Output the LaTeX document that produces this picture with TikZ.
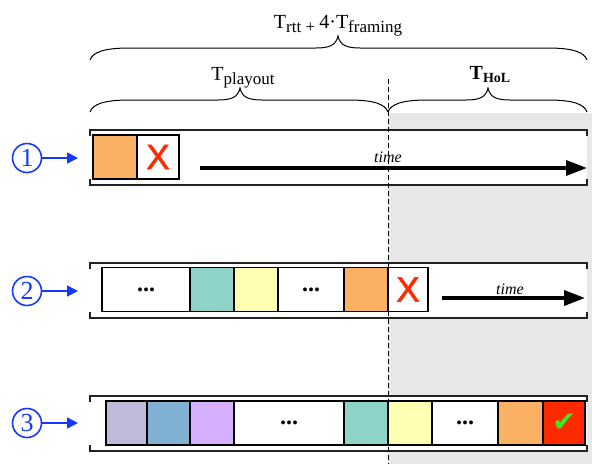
\documentclass[tikz,border=0pt]{standalone}
\usepackage{fontspec}
\setmainfont{Liberation Serif}
\newfontfamily\sansX[FakeBold=1.6]{Liberation Sans}
\newfontfamily\dejavu{DejaVu Sans}
\usetikzlibrary{arrows.meta}
\definecolor{cOrange}{HTML}{FBB163}
\definecolor{cTeal}{HTML}{8DD3C7}
\definecolor{cYellow}{HTML}{FFFFB3}
\definecolor{cLav}{HTML}{BEBADA}
\definecolor{cBlue}{HTML}{80B1D3}
\definecolor{cPurple}{HTML}{D6B0FF}
\definecolor{cRed}{HTML}{FF2A00}
\definecolor{cGreen}{HTML}{33EE22}
\definecolor{cShade}{HTML}{E8E8E8}
\definecolor{cNum}{HTML}{1438FF}
\definecolor{cFrame}{HTML}{222222}
\newcommand\mybracepath[6]{%
  (#1,#4) .. controls (#1+3,#5+4) and (#1+14,#5) .. (#1+40,#5) -- (#3-22,#5)
  .. controls (#3-8,#5) and (#3-2,#5-3) .. (#3,#6)
  .. controls (#3+2,#5-3) and (#3+8,#5) .. (#3+22,#5) -- (#2-40,#5)
  .. controls (#2-14,#5) and (#2-3,#5+4) .. (#2,#4)}
\newcommand\myframe[2]{%
  \fill[white] (90,#1) rectangle (587,#2);
  \draw[framel] (90,#1+6) -- (90,#1) -- (587,#1) -- (587,#1+6);
  \draw[framel] (90,#2-6) -- (90,#2) -- (587,#2) -- (587,#2-6);}
\begin{document}
\begin{tikzpicture}[x=1pt,y=-1pt,
  cell/.style={draw=black, line width=1.1pt, inner sep=0pt, minimum height=44pt},
  framel/.style={draw=cFrame, line width=1.2pt},
  bracel/.style={draw=black, line width=1pt},
  lbl/.style={anchor=base, inner sep=0pt, font=\fontsize{20}{20}\selectfont},
  num/.style={circle, draw=cNum, line width=1.6pt, minimum size=29pt, inner sep=0pt, text=cNum, font=\fontsize{26}{26}\selectfont},
  numarrow/.style={draw=cNum, line width=1.6pt, -{Triangle[length=11pt,width=11pt]}},
  timearrow/.style={draw=black, line width=3.5pt, -{Triangle[length=21pt,width=15pt]}},
  timelbl/.style={inner sep=0pt, font=\fontsize{16}{16}\selectfont\itshape},
  xmark/.style={text=cRed, font=\sansX\fontsize{35}{35}\selectfont},
  dots/.style={font=\fontsize{24}{24}\selectfont\bfseries},
]
\useasboundingbox (0,0) rectangle (592,464);
\fill[cShade] (388,113) rectangle (592,464);

% braces
\draw[bracel] \mybracepath{90}{587}{338}{60}{48}{36};
\draw[bracel] \mybracepath{90}{388}{240}{112}{100}{88};
\draw[bracel] \mybracepath{388}{587}{488}{112}{100}{88};

\node[lbl] (ltop) at (338,28) {T{\fontsize{17}{17}\selectfont\raisebox{-4pt}{rtt + }}4·T{\fontsize{17}{17}\selectfont\raisebox{-4pt}{framing}}};
\node[lbl] (lplay) at (243,80) {T{\fontsize{17}{17}\selectfont\raisebox{-4pt}{playout}}};
\node[lbl] (lhol) at (490,79) {\bfseries T{\fontsize{14}{14}\selectfont\raisebox{-3pt}{HoL}}};

% frames
\myframe{130}{185}
\myframe{263}{318}
\myframe{396}{451}

% row 1
\node[cell, fill=cOrange, minimum width=44pt] (a1) at (115,157) {};
\node[cell, fill=white, minimum width=42pt] (a2) at (158,157) {};
\node[xmark] (ax) at (a2) {X};
\coordinate (t1s) at (200,168);
\coordinate (t1e) at (587,168);
\draw[timearrow] (t1s) -- (t1e);
\node[timelbl] (tl1) at (388,157) {time};

% row 2
\node[cell, fill=white, minimum width=88pt] (b1) at (146,289.5) {};
\node[dots] (b1d) at (b1) {...};
\node[cell, fill=cTeal, minimum width=44pt] (b2) at (212,289.5) {};
\node[cell, fill=cYellow, minimum width=44pt] (b3) at (256,289.5) {};
\node[cell, fill=white, minimum width=66pt] (b4) at (311,289.5) {};
\node[dots] (b4d) at (b4) {...};
\node[cell, fill=cOrange, minimum width=44pt] (b5) at (366,289.5) {};
\node[cell, fill=white, minimum width=40pt] (b6) at (408,289.5) {};
\node[xmark] (bx) at (b6) {X};
\coordinate (t2s) at (442,298);
\coordinate (t2e) at (585,298);
\draw[timearrow] (t2s) -- (t2e);
\node[timelbl] (tl2) at (510,289) {time};

% row 3
\node[cell, fill=cLav, minimum width=41pt] (c1) at (126.5,423) {};
\node[cell, fill=cBlue, minimum width=43pt] (c2) at (168.5,423) {};
\node[cell, fill=cPurple, minimum width=44pt] (c3) at (212,423) {};
\node[cell, fill=white, minimum width=110pt] (c4) at (289,423) {};
\node[dots] (c4d) at (c4) {...};
\node[cell, fill=cTeal, minimum width=44pt] (c5) at (366,423) {};
\node[cell, fill=cYellow, minimum width=44pt] (c6) at (410,423) {};
\node[cell, fill=white, minimum width=66pt] (c7) at (465,423) {};
\node[dots] (c7d) at (c7) {...};
\node[cell, fill=cOrange, minimum width=45pt] (c8) at (520.5,423) {};
\node[cell, fill=cRed, minimum width=42pt] (c9) at (564,423) {};
\node[text=cGreen, font=\dejavu\fontsize{28}{28}\selectfont] (ck) at (c9) {✔};

% dashed divider
\coordinate (dtop) at (388,79);
\coordinate (dbot) at (388,464);
\draw[dashed, line width=1pt, dash pattern=on 5pt off 3pt] (dtop) -- (dbot);

% circled numbers
\node[num] (n1) at (27,158) {1};
\node[num] (n2) at (27,291) {2};
\node[num] (n3) at (27,423) {3};
\coordinate (e1) at (78,158);
\coordinate (e2) at (78,291);
\coordinate (e3) at (78,423);
\draw[numarrow] (n1) -- (e1);
\draw[numarrow] (n2) -- (e2);
\draw[numarrow] (n3) -- (e3);
\end{tikzpicture}
\end{document}
